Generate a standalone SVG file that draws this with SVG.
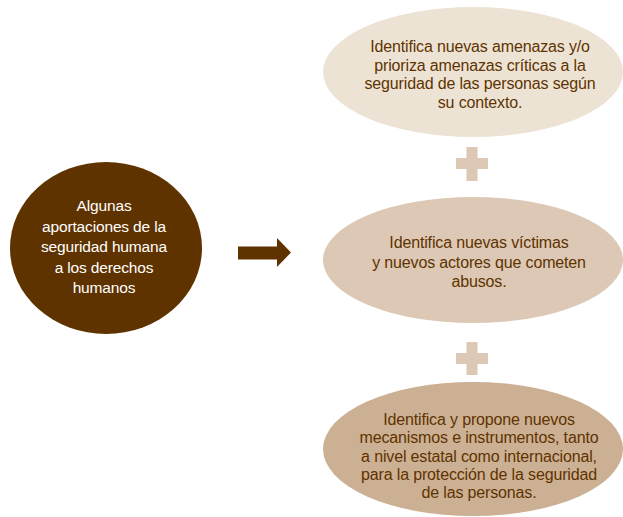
<svg xmlns="http://www.w3.org/2000/svg" width="623" height="517" viewBox="0 0 623 517">
<style>
.t{font-family:"Liberation Sans",Arial,sans-serif;font-size:16px;letter-spacing:-0.15px;text-anchor:middle;fill:#5f3300}
.w{fill:#ffffff;font-size:15.5px}
.plus{fill:#dcc8b4}
</style>
<rect width="623" height="517" fill="#ffffff"/>
<g id="n0">
<ellipse cx="106" cy="248" rx="96" ry="86" fill="#5f3300"/>
<text class="t w"><tspan x="104" y="211">Algunas</tspan><tspan x="104" y="231.5">aportaciones de la</tspan><tspan x="104" y="252">seguridad humana</tspan><tspan x="104" y="272.5">a los derechos</tspan><tspan x="104" y="293">humanos</tspan></text>
</g>
<g id="n1">
<ellipse cx="473" cy="72" rx="150" ry="65" fill="#ede3d5"/>
<text class="t"><tspan x="480" y="52">Identifica nuevas amenazas y/o</tspan><tspan x="480" y="70.7">prioriza amenazas críticas a la</tspan><tspan x="480" y="89.4">seguridad de las personas según</tspan><tspan x="480" y="108">su contexto.</tspan></text>
</g>
<g id="n2">
<ellipse cx="473" cy="260" rx="150" ry="63" fill="#dcc8b4"/>
<text class="t"><tspan x="479" y="248">Identifica nuevas víctimas</tspan><tspan x="479" y="268">y nuevos actores que cometen</tspan><tspan x="479" y="287">abusos.</tspan></text>
</g>
<g id="n3">
<ellipse cx="473" cy="449" rx="150" ry="67" fill="#ccb093"/>
<text class="t"><tspan x="479" y="425">Identifica y propone nuevos</tspan><tspan x="479" y="443.3">mecanismos e instrumentos, tanto</tspan><tspan x="479" y="461.6">a nivel estatal como internacional,</tspan><tspan x="479" y="480">para la protección de la seguridad</tspan><tspan x="479" y="498">de las personas.</tspan></text>
</g>
<g id="connectors">
<path d="M238 246.5 H277 V238 L291 252.5 L277 267 V259.5 H238 Z" fill="#5f3300"/>
<path class="plus" d="M466.5 147 h11 v11 h10.5 v11 h-10.5 v12 h-11 v-12 h-10.5 v-11 h10.5 Z"/>
<path class="plus" d="M466.5 342 h11 v11 h10.5 v11 h-10.5 v11 h-11 v-11 h-10.5 v-11 h10.5 Z"/>
</g>
</svg>
